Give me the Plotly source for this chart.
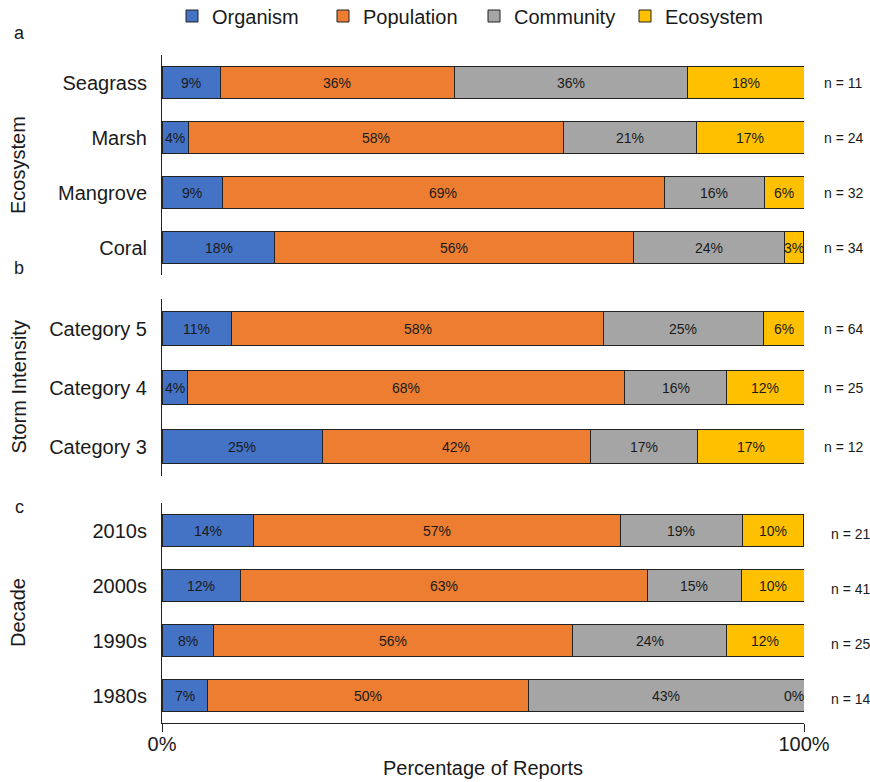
import plotly.graph_objects as go
from plotly.subplots import make_subplots

levels = ["Organism", "Population", "Community", "Ecosystem"]
colors = ["#4472C4", "#ED7D31", "#A5A5A5", "#FFC000"]

eco_cats = ["Seagrass", "Marsh", "Mangrove", "Coral"]
eco_organism = [9.1, 4.2, 9.4, 17.6]
eco_population = [36.4, 58.3, 68.8, 55.9]
eco_community = [36.4, 20.8, 15.6, 23.5]
eco_ecosystem = [18.2, 16.7, 6.3, 2.9]
eco_n = [11, 24, 32, 34]

storm_cats = ["Category 5", "Category 4", "Category 3"]
storm_organism = [10.9, 4.0, 25.0]
storm_population = [57.8, 68.0, 41.7]
storm_community = [25.0, 16.0, 16.7]
storm_ecosystem = [6.3, 12.0, 16.7]
storm_n = [64, 25, 12]

dec_cats = ["2010s", "2000s", "1990s", "1980s"]
dec_organism = [14.3, 12.2, 8.0, 7.1]
dec_population = [57.1, 63.4, 56.0, 50.0]
dec_community = [19.0, 14.6, 24.0, 42.9]
dec_ecosystem = [9.5, 9.8, 12.0, 0.0]
dec_n = [21, 41, 25, 14]

x_ticks = [0, 100]
x_ticklabels = ["0%", "100%"]

panels = [
    dict(cats=eco_cats, series=[eco_organism, eco_population, eco_community, eco_ecosystem],
         n=eco_n, title="Ecosystem", letter="a", width=0.57, nx=822),
    dict(cats=storm_cats, series=[storm_organism, storm_population, storm_community, storm_ecosystem],
         n=storm_n, title="Storm Intensity", letter="b", width=0.56, nx=822),
    dict(cats=dec_cats, series=[dec_organism, dec_population, dec_community, dec_ecosystem],
         n=dec_n, title="Decade", letter="c", width=0.57, nx=829),
]

W, H = 870, 782
FONT = "Liberation Sans, Arial, sans-serif"
TXT = "#1a1a1a"
EDGE = "#222222"

# pixel layout (top, bottom) of each panel
panel_px = [(55, 275), (299, 476), (503, 723)]
letter_px = [33, 268, 507]
x0_px, x1_px = 162, 804

fig = make_subplots(rows=3, cols=1, shared_xaxes=True)
annotations = []

for r, p in enumerate(panels, start=1):
    base = [0.0] * len(p["cats"])
    yref = "y" if r == 1 else f"y{r}"
    xref = "x" if r == 1 else f"x{r}"
    for k, (lvl, col, vals) in enumerate(zip(levels, colors, p["series"])):
        fig.add_trace(go.Bar(
            y=p["cats"], x=vals, orientation="h", name=lvl,
            marker=dict(color=col, line=dict(color=EDGE, width=1)),
            width=p["width"], showlegend=(r == 1), legendgroup=lvl,
            hoverinfo="skip",
        ), row=r, col=1)
        for i, (c, v) in enumerate(zip(p["cats"], vals)):
            annotations.append(dict(x=base[i] + v / 2, y=c, xref=xref, yref=yref,
                                    text=f"{v:.0f}%", showarrow=False,
                                    xanchor="right" if v == 0 else "center",
                                    xshift=2 if v == 0 else 0,
                                    font=dict(size=14, color=TXT, family=FONT)))
            base[i] += v
    for c, nv in zip(p["cats"], p["n"]):
        annotations.append(dict(x=p["nx"] / W, y=c, xref="paper", yref=yref,
                                text=f"n = {nv}", showarrow=False, xanchor="left",
                                yshift=-3 if r == 3 else 0,
                                font=dict(size=14, color=TXT, family=FONT)))
    top, bot = panel_px[r - 1]
    annotations.append(dict(x=18 / W, y=1 - ((top + bot) / 2) / H, xref="paper", yref="paper",
                            text=p["title"], textangle=-90, showarrow=False,
                            xanchor="center", yanchor="middle",
                            font=dict(size=20, color=TXT, family=FONT)))
    annotations.append(dict(x=19 / W, y=1 - letter_px[r - 1] / H, xref="paper", yref="paper",
                            text=p["letter"], showarrow=False, xanchor="center", yanchor="middle",
                            font=dict(size=18, color=TXT, family=FONT)))

    ydom = [1 - bot / H, 1 - top / H]
    fig.update_yaxes(row=r, col=1, domain=ydom, type="category",
                     categoryorder="array", categoryarray=p["cats"],
                     autorange="reversed", showline=True, linecolor=EDGE,
                     linewidth=1, ticks="", showgrid=False, zeroline=False,
                     automargin=False,
                     tickfont=dict(size=20, color=TXT, family=FONT), ticklabelstandoff=10)
    fig.update_xaxes(row=r, col=1, domain=[x0_px / W, x1_px / W], range=[0, 100],
                     showgrid=False, zeroline=False, fixedrange=True, automargin=False,
                     showline=(r == 3), linecolor=EDGE, linewidth=1,
                     ticks="outside" if r == 3 else "", ticklen=8, tickcolor=EDGE,
                     tickvals=x_ticks, ticktext=x_ticklabels,
                     showticklabels=(r == 3), ticklabelstandoff=-5,
                     tickfont=dict(size=20, color=TXT, family=FONT))

fig.update_xaxes(row=3, col=1, title=dict(text="Percentage of Reports", standoff=6,
                                          font=dict(size=20, color=TXT, family=FONT)))

fig.update_layout(
    width=W, height=H, barmode="stack",
    margin=dict(l=0, r=0, t=0, b=0, autoexpand=False),
    paper_bgcolor="white", plot_bgcolor="white",
    font=dict(family=FONT, color=TXT),
    legend=dict(orientation="h", x=172 / W, xanchor="left", y=1 - 16 / H, yanchor="middle",
                font=dict(size=20, color=TXT, family=FONT),
                itemwidth=30, entrywidth=106, tracegroupgap=0, traceorder="normal"),
    annotations=annotations,
)

fig.write_html("out.html", config={"displayModeBar": False, "staticPlot": True},
               post_script="document.body.style.margin='0';document.body.style.overflow='hidden';")
